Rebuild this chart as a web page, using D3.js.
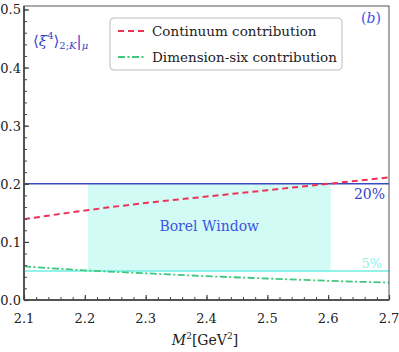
<!DOCTYPE html>
<html>
<head>
<meta charset="utf-8">
<script src="https://cdn.jsdelivr.net/npm/d3@7"></script>
<style>
  body { margin: 0; background: #fff; }
  text { font-family: "DejaVu Serif", "Liberation Serif", serif; }
</style>
</head>
<body>
<div id="chart"></div>
<script>
// data
var m2 = [2.1, 2.2, 2.3, 2.4, 2.5, 2.6, 2.7];
var continuum = [0.139, 0.154, 0.167, 0.178, 0.189, 0.200, 0.211];
var dimSix = [0.058, 0.051, 0.046, 0.041, 0.037, 0.033, 0.030];
var borel = [2.205, 2.604];
var limit20 = 0.2;
var limit5 = 0.05;
var xTicks = [2.1, 2.2, 2.3, 2.4, 2.5, 2.6, 2.7];
var yTicks = [0.0, 0.1, 0.2, 0.3, 0.4, 0.5];

var W = 399, H = 352;
var margin = {top: 6, right: 10, bottom: 52, left: 24};
var width = W - margin.left - margin.right;
var height = H - margin.top - margin.bottom;

var svg = d3.select("#chart")
  .append("svg")
    .attr("width", W)
    .attr("height", H);

var x = d3.scaleLinear()
  .domain([2.1, 2.7])
  .range([margin.left, margin.left + width]);

var y = d3.scaleLinear()
  .domain([0, 0.506])
  .range([margin.top + height, margin.top]);

// borel window band
svg.append("rect")
  .attr("x", x(borel[0]))
  .attr("y", y(limit20))
  .attr("width", x(borel[1]) - x(borel[0]))
  .attr("height", y(limit5) - y(limit20))
  .attr("fill", "#d2fbf6");

// limit lines
svg.append("line")
  .attr("x1", x(2.1)).attr("x2", x(2.7))
  .attr("y1", y(limit20)).attr("y2", y(limit20))
  .attr("stroke", "#3a4bc0")
  .attr("stroke-width", 1.6);

svg.append("line")
  .attr("x1", x(2.1)).attr("x2", x(2.7))
  .attr("y1", y(limit5)).attr("y2", y(limit5))
  .attr("stroke", "#6fefe4")
  .attr("stroke-width", 1.4);

var line = d3.line()
  .x(function(d, i) { return x(m2[i]) })
  .y(function(d) { return y(d) })
  .curve(d3.curveMonotoneX);

svg.append("path")
  .datum(continuum)
  .attr("fill", "none")
  .attr("stroke", "#ec3357")
  .attr("stroke-width", 2)
  .attr("stroke-dasharray", "6,4")
  .attr("d", line);

svg.append("path")
  .datum(dimSix)
  .attr("fill", "none")
  .attr("stroke", "#3fc77e")
  .attr("stroke-width", 1.8)
  .attr("stroke-dasharray", "7,2.5,2,2.5")
  .attr("d", line);

// frame
svg.append("rect")
  .attr("x", x(2.1)).attr("y", margin.top)
  .attr("width", width).attr("height", height)
  .attr("fill", "none")
  .attr("stroke", "#555")
  .attr("stroke-width", 1);

svg.append("line")
  .attr("x1", x(2.1)).attr("x2", x(2.1))
  .attr("y1", margin.top).attr("y2", margin.top + height)
  .attr("stroke", "#555").attr("stroke-width", 2);
svg.append("line")
  .attr("x1", x(2.1)).attr("x2", x(2.7))
  .attr("y1", margin.top + height).attr("y2", margin.top + height)
  .attr("stroke", "#555").attr("stroke-width", 2);

// axes with inward ticks
var xAxis = svg.append("g")
  .attr("transform", "translate(0," + (margin.top + height) + ")")
  .call(d3.axisTop(x).tickValues(d3.range(2.1, 2.7001, 0.02)).tickSize(3).tickFormat(""));
xAxis.select(".domain").remove();
xAxis.selectAll("line").attr("stroke", "#444");

var xMajor = svg.append("g")
  .attr("transform", "translate(0," + (margin.top + height) + ")")
  .call(d3.axisTop(x).tickValues(xTicks).tickSize(5).tickFormat(""));
xMajor.select(".domain").remove();
xMajor.selectAll("line").attr("stroke", "#444").attr("stroke-width", 1.2);

svg.selectAll(".xlab")
  .data(xTicks)
  .enter().append("text")
  .attr("x", function(d) { return x(d) })
  .attr("y", margin.top + height + 23)
  .attr("text-anchor", "middle")
  .attr("font-size", 13)
  .attr("fill", "#222")
  .text(function(d) { return d3.format(".1f")(d) });

var yAxis = svg.append("g")
  .attr("transform", "translate(" + x(2.1) + ",0)")
  .call(d3.axisRight(y).tickValues(d3.range(0, 0.5001, 0.02)).tickSize(3).tickFormat(""));
yAxis.select(".domain").remove();
yAxis.selectAll("line").attr("stroke", "#444");

var yMajor = svg.append("g")
  .attr("transform", "translate(" + x(2.1) + ",0)")
  .call(d3.axisRight(y).tickValues(yTicks).tickSize(5).tickFormat(""));
yMajor.select(".domain").remove();
yMajor.selectAll("line").attr("stroke", "#444").attr("stroke-width", 1.2);

svg.selectAll(".ylab")
  .data(yTicks)
  .enter().append("text")
  .attr("x", x(2.1) - 3)
  .attr("y", function(d) { return y(d) + 5 })
  .attr("text-anchor", "end")
  .attr("font-size", 13)
  .attr("fill", "#222")
  .text(function(d) { return d3.format(".1f")(d) });

// x axis title
var xt = svg.append("text")
  .attr("x", 205)
  .attr("y", 345)
  .attr("text-anchor", "middle")
  .attr("font-size", 14)
  .attr("fill", "#222");
xt.append("tspan").attr("font-style", "italic").text("M");
xt.append("tspan").attr("font-size", 9).attr("dy", -6).text("2");
xt.append("tspan").attr("dy", 6).text("[GeV");
xt.append("tspan").attr("font-size", 9).attr("dy", -6).text("2");
xt.append("tspan").attr("dy", 6).text("]");

// annotations
var lbl = svg.append("text")
  .attr("x", 33)
  .attr("y", 46)
  .attr("font-size", 15)
  .attr("fill", "#3443c8");
lbl.append("tspan").text("⟨");
lbl.append("tspan").attr("font-style", "italic").text("ξ");
lbl.append("tspan").attr("font-size", 10).attr("dy", -7).text("4");
lbl.append("tspan").attr("dy", 7).text("⟩");
lbl.append("tspan").attr("font-size", 10).attr("dy", 3).text("2;");
lbl.append("tspan").attr("font-size", 10).attr("font-style", "italic").text("K");
lbl.append("tspan").attr("dy", -3).text("|");
lbl.append("tspan").attr("font-size", 10).attr("dy", 3).attr("font-style", "italic").text("μ");

svg.append("text")
  .attr("x", 371).attr("y", 23)
  .attr("text-anchor", "middle")
  .attr("font-size", 14)
  .attr("fill", "#3a55e8")
  .text("(")
  .append("tspan").attr("font-style", "italic").text("b")
  .select(function() { return this.parentNode })
  .append("tspan").text(")");

svg.append("text")
  .attr("x", (x(borel[0]) + x(borel[1])) / 2)
  .attr("y", 231)
  .attr("text-anchor", "middle")
  .attr("font-size", 14)
  .attr("fill", "#3a55e0")
  .text("Borel Window");

svg.append("text")
  .attr("x", 385).attr("y", y(limit20) + 15)
  .attr("text-anchor", "end")
  .attr("font-size", 14)
  .attr("fill", "#3443c8")
  .text("20%");

svg.append("text")
  .attr("x", 382).attr("y", y(limit5) - 3)
  .attr("text-anchor", "end")
  .attr("font-size", 13)
  .attr("fill", "#8ff2ea")
  .text("5%");

// legend
var legend = svg.append("g");
legend.append("rect")
  .attr("x", 110).attr("y", 18)
  .attr("width", 232).attr("height", 52)
  .attr("rx", 4)
  .attr("fill", "#fff")
  .attr("stroke", "#bbb")
  .attr("stroke-width", 1);

var legItems = [
  {name: "Continuum contribution", color: "#ec3357", dash: "6,4"},
  {name: "Dimension-six contribution", color: "#3fc77e", dash: "7,2.5,2,2.5"}
];
legItems.forEach(function(d, i) {
  var ly = 31 + i * 26;
  legend.append("line")
    .attr("x1", 118).attr("x2", 144)
    .attr("y1", ly).attr("y2", ly)
    .attr("stroke", d.color)
    .attr("stroke-width", 1.8)
    .attr("stroke-dasharray", d.dash);
  legend.append("text")
    .attr("x", 152).attr("y", ly + 5)
    .attr("font-size", 13.5)
    .attr("fill", "#222")
    .text(d.name);
});
</script>
</body>
</html>
